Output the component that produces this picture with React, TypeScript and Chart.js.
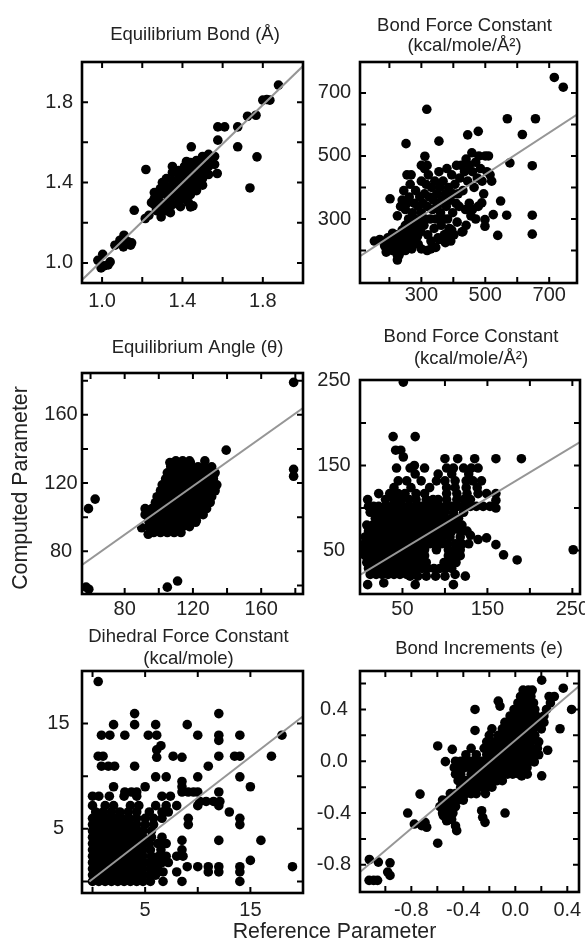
import React, { useEffect, useRef } from "react";
import { Chart, registerables } from "chart.js";

Chart.register(...registerables);

type Pt = [number, number];
type Row = [number, number[]]; // [y, list of x]

const FONT = '"Liberation Sans", Arial, Helvetica, sans-serif';
const TEXT = "#222";

// ---------- Panel 1: Equilibrium Bond ----------
const p1Title = ["Equilibrium Bond (Å)"];
const p1XRange = [0.9, 2.0];
const p1YRange = [0.9, 2.0];
const p1XTicks = [1.0, 1.2, 1.4, 1.6, 1.8];
const p1YTicks = [1.0, 1.2, 1.4, 1.6, 1.8];
const p1XLabels = [1.0, 1.4, 1.8];
const p1YLabels = [1.0, 1.4, 1.8];
const p1Fit: Pt[] = [[0.9, 0.915], [2.0, 1.98]];
const p1Points: Pt[] = [
  [0.979, 1.013], [1.003, 1.043], [1.01, 0.985], [1.04, 1.005], [1.03, 0.99], [0.995, 0.975],
  [1.064, 1.088], [1.089, 1.113], [1.109, 1.138], [1.13, 1.105], [1.142, 1.088], [1.106, 1.08], [1.147, 1.1],
  [1.16, 1.262], [1.215, 1.221], [1.233, 1.237], [1.218, 1.465], [1.246, 1.3], [1.294, 1.229],
  [1.44, 1.279], [1.452, 1.284], [1.444, 1.578], [1.5, 1.387], [1.573, 1.445], [1.576, 1.611],
  [1.576, 1.677], [1.61, 1.677], [1.675, 1.677], [1.675, 1.578], [1.724, 1.73], [1.766, 1.735],
  [1.736, 1.373], [1.771, 1.528], [1.8, 1.81], [1.82, 1.813], [1.835, 1.81], [1.878, 1.885],
  [1.26, 1.29], [1.26, 1.32], [1.26, 1.35],
  [1.29, 1.27], [1.29, 1.3], [1.29, 1.34], [1.29, 1.37],
  [1.32, 1.26], [1.32, 1.3], [1.32, 1.34], [1.32, 1.38], [1.32, 1.42],
  [1.35, 1.29], [1.35, 1.33], [1.35, 1.37], [1.35, 1.41], [1.35, 1.45], [1.35, 1.48],
  [1.38, 1.3], [1.38, 1.34], [1.38, 1.38], [1.38, 1.42], [1.38, 1.46],
  [1.41, 1.32], [1.41, 1.36], [1.41, 1.4], [1.41, 1.44], [1.41, 1.48],
  [1.44, 1.34], [1.44, 1.38], [1.44, 1.42], [1.44, 1.46], [1.44, 1.5],
  [1.47, 1.36], [1.47, 1.4], [1.47, 1.44], [1.47, 1.48], [1.47, 1.51],
  [1.5, 1.42], [1.5, 1.46], [1.5, 1.5], [1.5, 1.53],
  [1.53, 1.44], [1.53, 1.48], [1.53, 1.52], [1.53, 1.54],
  [1.56, 1.49], [1.56, 1.53],
  [1.39, 1.28], [1.43, 1.3], [1.36, 1.46], [1.42, 1.505], [1.3, 1.4], [1.34, 1.25], [1.27, 1.26],
];

// ---------- Panel 2: Bond Force Constant ----------
const p2Title = ["Bond Force Constant", "(kcal/mole/Å²)"];
const p2XRange = [108, 787];
const p2YRange = [97, 798];
const p2XTicks = [200, 300, 400, 500, 600, 700];
const p2YTicks = [200, 300, 400, 500, 600, 700];
const p2XLabels = [300, 500, 700];
const p2YLabels = [300, 500, 700];
const p2Fit: Pt[] = [[108, 182], [787, 631]];
const p2Points: Pt[] = [
  [716, 749], [744, 718], [317, 648], [569, 618], [657, 618], [616, 568], [478, 578], [445, 567],
  [355, 547], [252, 539], [311, 499], [577, 478], [647, 469], [548, 357], [567, 312], [647, 312],
  [647, 252], [539, 248], [499, 298], [499, 277], [525, 314], [489, 351], [427, 259], [202, 364],
  [153, 230], [225, 170],
  [190, 195], [200, 220], [205, 240], [210, 200], [215, 230], [220, 210], [222, 250], [225, 185],
  [230, 220], [235, 240], [238, 200], [240, 265], [245, 230], [248, 210], [250, 280], [255, 245],
  [258, 225], [260, 300], [262, 265], [265, 210], [268, 240], [270, 285], [275, 255], [278, 230],
  [280, 300], [285, 270], [288, 245], [290, 220], [295, 290], [298, 260], [170, 235], [185, 215],
  [195, 240], [210, 255], [230, 185], [250, 200], [270, 205],
  [300, 320], [305, 350], [308, 280], [310, 380], [312, 300], [315, 410], [318, 340], [320, 250],
  [322, 440], [325, 370], [328, 300], [330, 230], [332, 400], [335, 330], [338, 360], [340, 270],
  [342, 420], [345, 300], [348, 380], [350, 340], [352, 240], [355, 450], [358, 400], [360, 320],
  [362, 280], [365, 360], [368, 420], [370, 300], [372, 250], [375, 380], [378, 340], [380, 460],
  [382, 300], [385, 400], [388, 270], [390, 360], [392, 230], [395, 440], [398, 320], [400, 380],
  [402, 250], [405, 410], [408, 350], [410, 470], [412, 290], [415, 380], [418, 340], [420, 430],
  [225, 310], [235, 340], [240, 360], [245, 390], [250, 330], [255, 350], [262, 370], [265, 410],
  [268, 440], [272, 320], [278, 350], [282, 390], [290, 340], [295, 370], [300, 420], [310, 460],
  [318, 470], [255, 440], [300, 470],
  [425, 470], [430, 390], [435, 450], [438, 330], [440, 490], [445, 420], [450, 470], [455, 310],
  [458, 510], [460, 450], [465, 400], [470, 480], [475, 430], [478, 340], [480, 500], [485, 460],
  [490, 420], [495, 380], [500, 500], [505, 450], [510, 500], [515, 440], [520, 420], [440, 280],
  [430, 260], [460, 330], [470, 300], [450, 350],
  [300, 205], [318, 200], [330, 205], [345, 210], [355, 235], [375, 225], [390, 240], [395, 265], [380, 255],
];

// ---------- Panel 3: Equilibrium Angle ----------
const p3Title = ["Equilibrium Angle (θ)"];
const p3XRange = [55, 184.5];
const p3YRange = [55, 184.5];
const p3XTicks = [60, 80, 100, 120, 140, 160, 180];
const p3YTicks = [60, 80, 100, 120, 140, 160, 180];
const p3XLabels = [80, 120, 160];
const p3YLabels = [80, 120, 160];
const p3Fit: Pt[] = [[55, 72], [184.5, 164]];
const p3Points: Pt[] = [
  [179, 179], [179, 128], [179, 124], [58.8, 105], [62.7, 110.6], [57.4, 59], [59, 57.8],
  [105, 59], [111, 62.6], [93.8, 90], [90, 93.8], [102, 94], [121.6, 97], [139.5, 139.3],
  [130, 109], [125.5, 110], [132.3, 118.8], [106.5, 132], [118.5, 132],
];
const p3Rows: Row[] = [
  [91, [97, 101, 105, 109, 113]],
  [94.5, [94, 98, 102, 106, 110, 114, 118]],
  [98, [94, 98, 102, 106, 110, 114, 118, 122]],
  [101.5, [92, 95, 99, 103, 107, 111, 115, 119, 123, 126]],
  [105, [92, 96, 100, 104, 108, 112, 116, 120, 124, 128]],
  [108.5, [98, 102, 106, 110, 114, 118, 122, 126, 130]],
  [112, [99, 103, 107, 111, 115, 119, 123, 127, 131]],
  [115.5, [101, 105, 109, 113, 117, 121, 125, 129, 133]],
  [119, [102, 106, 110, 114, 118, 122, 126, 130, 134]],
  [122.5, [104, 108, 112, 116, 120, 124, 128, 132]],
  [126, [105, 109, 113, 117, 121, 125, 129, 133]],
  [129.5, [107, 111, 115, 119, 123, 127, 131]],
  [133, [110, 114, 118, 127]],
];

// ---------- Panel 4: Bond Force Constant (angles) ----------
const p4Title = ["Bond Force Constant", "(kcal/mole/Å²)"];
const p4XRange = [0, 259];
const p4YRange = [-1, 250.5];
const p4XTicks = [50, 100, 150, 200, 250];
const p4YTicks = [50, 100, 150, 200, 250];
const p4XLabels = [50, 150, 250];
const p4YLabels = [50, 150, 250];
const p4Fit: Pt[] = [[0, 21.5], [259, 177.5]];
const p4Points: Pt[] = [
  [51, 248], [39, 184], [65, 184], [42, 168], [48, 168], [51, 160], [100, 158], [115, 158],
  [135, 158], [160, 158], [190, 158], [64, 150], [251, 51], [169, 45], [185, 39], [160, 57],
  [149, 65], [160, 109], [160, 100], [160, 117], [149, 117], [139, 117], [110, 10], [65, 10],
  [9, 10], [28, 12], [124, 20], [89, 20], [100, 20], [78, 20], [68, 20], [59, 20], [130, 68], [139, 63],
];
const p4Rows: Row[] = [
  [147, [43, 59, 76, 102, 110, 122, 131, 139]],
  [140, [65, 92, 108, 128]],
  [132, [45, 55, 72, 90, 100, 112, 125, 133, 143]],
  [124, [40, 60, 82, 102, 112, 125, 138]],
  [117, [22, 35, 45, 53, 66, 76, 102, 114, 126]],
  [110, [9, 30, 40, 49, 58, 66, 78, 86, 92, 102, 114, 122, 130]],
  [102, [10, 16, 22, 30, 37, 44, 51, 58, 65, 72, 80, 87, 94, 101, 108, 115, 122, 130, 137, 145, 153]],
  [95, [12, 20, 28, 35, 42, 50, 57, 64, 72, 79, 86, 93, 100, 110, 122]],
  [88, [18, 25, 32, 39, 47, 54, 62, 69, 76, 84, 92, 100, 108, 116]],
  [80, [8, 15, 22, 29, 36, 43, 50, 57, 64, 71, 78, 85, 92, 99, 106, 113, 120]],
  [73, [10, 17, 24, 31, 38, 45, 52, 59, 66, 73, 80, 87, 94, 101, 108, 118, 126]],
  [66, [6, 13, 20, 27, 34, 41, 48, 55, 62, 69, 76, 83, 90, 97, 106, 118]],
  [58, [5, 12, 19, 26, 33, 40, 47, 54, 61, 68, 75, 82, 89, 96, 103, 112, 120, 128]],
  [51, [5, 12, 19, 26, 33, 40, 47, 54, 61, 68, 76, 90, 104, 112, 118]],
  [44, [6, 13, 20, 27, 34, 41, 48, 55, 62, 69, 76, 104, 111, 118]],
  [36, [8, 15, 22, 29, 36, 43, 50, 57, 64, 71, 78, 99, 106, 113]],
  [29, [10, 17, 24, 31, 38, 45, 52, 59, 66, 73, 80, 87, 94, 101, 108]],
  [22, [12, 19, 26, 33, 40, 47, 55, 62, 112]],
];

// ---------- Panel 5: Dihedral Force Constant ----------
const p5Title = ["Dihedral Force Constant", "(kcal/mole)"];
const p5XRange = [-1, 20];
const p5YRange = [-1.1, 20];
const p5XTicks = [0, 5, 10, 15];
const p5YTicks = [0, 5, 10, 15];
const p5XLabels = [5, 15];
const p5YLabels = [5, 15];
const p5Fit: Pt[] = [[-0.3, 0], [20, 15.7]];
const p5Points: Pt[] = [];
const p5Rows: Row[] = [
  [0, [0, 0.6, 1.2, 1.8, 2.4, 3.0, 3.6, 4.2, 4.8, 5.5, 6.7, 8.5, 14]],
  [0.6, [0, 0.6, 1.2, 1.8, 2.4, 3.0, 3.6, 4.2, 4.8, 5.4, 6.0]],
  [0.9, [6.7, 8.0, 11, 12, 14]],
  [1.2, [0, 0.6, 1.2, 1.8, 2.4, 3.0, 3.6, 4.2, 4.8, 5.5, 6.2]],
  [1.4, [9, 10, 11, 12, 14, 19]],
  [1.8, [0, 0.6, 1.2, 1.8, 2.4, 3.0, 3.6, 4.2, 4.8, 5.4, 6.0, 6.6, 7.2]],
  [2.0, [15]],
  [2.4, [0, 0.6, 1.2, 1.8, 2.4, 3.0, 3.6, 4.2, 4.8, 5.6, 6.3, 7.0, 8.0, 8.6]],
  [3.0, [0, 0.6, 1.2, 1.8, 2.4, 3.0, 3.6, 4.2, 4.8, 5.5, 6.5, 8.5]],
  [3.6, [0, 0.6, 1.2, 1.8, 2.4, 3.0, 3.6, 4.2, 4.8, 5.4, 6.2, 7.0]],
  [3.9, [8.5, 12, 16]],
  [4.2, [0, 0.6, 1.2, 1.8, 2.4, 3.0, 3.6, 4.2, 4.8, 5.6, 6.6]],
  [4.8, [0, 0.6, 1.2, 1.8, 2.4, 3.0, 3.6, 4.2, 4.8, 5.6]],
  [5.4, [0, 0.6, 1.2, 1.8, 2.4, 3.0, 3.6, 4.2, 5.0, 5.8, 9.1, 14]],
  [6.0, [0, 0.7, 1.4, 2.1, 2.8, 3.5, 4.2, 5.0, 5.8, 6.6, 9.1, 14]],
  [6.6, [0.3, 1.0, 1.8, 2.6, 3.4, 4.2, 5.4, 6.6, 7.2, 13]],
  [7.2, [0, 1.2, 2.0, 3.6, 4.4, 6.0, 7.0, 8.0, 10, 12]],
  [7.6, [10.2, 10.8, 11.5, 12.1]],
  [8.1, [0, 0.6, 1.6, 3.0, 4.2, 6.6, 7.4]],
  [8.5, [3.07, 3.7, 4.2, 8.5, 9.1, 9.6, 10, 12]],
  [9.0, [2, 5, 8.5, 15]],
  [9.5, [8.5]],
  [9.94, [6, 7, 10, 14]],
  [10.95, [0.85, 1.5, 2.1, 4.0, 11]],
  [11.8, [6.1, 8.5]],
  [11.9, [0.54, 1.0, 7.66, 12, 13.5, 14, 17]],
  [12.5, [6.1]],
  [12.9, [6.5]],
  [13.4, [12]],
  [13.9, [0.85, 1.65, 3.07, 5.3, 6.1, 10, 12, 14, 18]],
  [14.9, [2.0, 4.0, 6.0, 9.0]],
  [15.95, [4.0, 12.0]],
  [19, [0.54]],
];

// ---------- Panel 6: Bond Increments ----------
const p6Title = ["Bond Increments (e)"];
const p6XRange = [-1.195, 0.49];
const p6YRange = [-1.01, 0.697];
const p6XTicks = [-1.0, -0.8, -0.6, -0.4, -0.2, 0.0, 0.2, 0.4];
const p6YTicks = [-0.8, -0.6, -0.4, -0.2, 0.0, 0.2, 0.4, 0.6];
const p6XLabels = [-0.8, -0.4, 0.0, 0.4];
const p6YLabels = [-0.8, -0.4, 0.0, 0.4];
const p6Fit: Pt[] = [[-1.195, -0.856], [0.49, 0.579]];
const p6Points: Pt[] = [
  [0.203, 0.626], [0.369, 0.564], [0.433, 0.4], [0.344, 0.251], [0.249, 0.085], [0.146, -0.005],
  [0.203, -0.113], [0.049, -0.113], [0.092, -0.1], [-0.31, 0.4], [-0.118, 0.426], [-0.131, 0.464],
  [-0.31, 0.238], [-0.597, 0.118], [-0.485, 0.092], [-0.538, -0.003], [-0.733, -0.254], [-0.828, -0.4],
  [-0.777, -0.485], [-0.72, -0.497], [-0.682, -0.51], [-0.695, -0.472], [-0.597, -0.633], [-0.451, -0.536],
  [-0.554, -0.42], [-0.528, -0.46], [-0.259, -0.382], [-0.251, -0.433], [-0.233, -0.472], [-0.079, -0.4],
  [-1.123, -0.759], [-1.054, -0.779], [-0.964, -0.785], [-1.125, -0.92], [-1.09, -0.92], [-1.06, -0.92],
  [-0.982, -0.856], [-0.964, -0.882],
];
const p6Rows: Row[] = [
  [0.55, [0.06, 0.1, 0.13]],
  [0.5, [0.04, 0.08, 0.12, 0.26, 0.3]],
  [0.45, [0.02, 0.06, 0.1, 0.14, 0.27]],
  [0.4, [-0.01, 0.03, 0.07, 0.11, 0.15, 0.24]],
  [0.35, [-0.04, 0.0, 0.04, 0.08, 0.12, 0.16, 0.22]],
  [0.3, [-0.08, -0.04, 0.0, 0.04, 0.08, 0.12, 0.18, 0.22]],
  [0.25, [-0.18, -0.1, -0.06, -0.02, 0.02, 0.06, 0.1, 0.14, 0.2]],
  [0.2, [-0.2, -0.13, -0.09, -0.05, -0.01, 0.03, 0.07, 0.11, 0.15]],
  [0.15, [-0.22, -0.16, -0.12, -0.08, -0.04, 0.0, 0.04, 0.08, 0.12, 0.18]],
  [0.1, [-0.34, -0.24, -0.19, -0.15, -0.11, -0.07, -0.03, 0.01, 0.05, 0.09, 0.13, 0.17]],
  [0.05, [-0.38, -0.3, -0.22, -0.18, -0.14, -0.1, -0.06, -0.02, 0.02, 0.06, 0.1, 0.14, 0.18]],
  [0.0, [-0.46, -0.42, -0.38, -0.34, -0.3, -0.26, -0.22, -0.18, -0.14, -0.1, -0.06, -0.02, 0.02, 0.06, 0.1]],
  [-0.05, [-0.47, -0.43, -0.39, -0.35, -0.31, -0.27, -0.23, -0.19, -0.15, -0.11, -0.07, -0.03, 0.01, 0.05, 0.09]],
  [-0.1, [-0.46, -0.42, -0.34, -0.3, -0.26, -0.22, -0.18, -0.14, -0.1, -0.06, -0.02, 0.03]],
  [-0.15, [-0.44, -0.38, -0.34, -0.3, -0.26, -0.22, -0.18, -0.14, -0.1]],
  [-0.2, [-0.42, -0.38, -0.34, -0.3, -0.26, -0.22, -0.18]],
  [-0.25, [-0.5, -0.46, -0.42, -0.38, -0.34, -0.3, -0.23]],
  [-0.3, [-0.56, -0.52, -0.48, -0.44, -0.4]],
  [-0.35, [-0.58, -0.54, -0.5, -0.46]],
  [-0.4, [-0.56, -0.52, -0.48]],
  [-0.45, [-0.53, -0.49]],
  [-0.5, [-0.46]],
];

// ---------- layout ----------
interface PanelCfg {
  title: string[];
  titleOffsets: number[];
  titleDx: number;
  box: number[]; // plot area l, t, r, b in page px
  xRange: number[];
  yRange: number[];
  xTicks: number[];
  yTicks: number[];
  xLabels: number[];
  yLabels: number[];
  decimals: number;
  points: Pt[];
  rows: Row[];
  fit: Pt[];
  xPad: number;
  yPad: number;
}

const PANELS: PanelCfg[] = [
  { title: p1Title, titleOffsets: [22], titleDx: 2.5, box: [82, 62, 303, 283], xRange: p1XRange, yRange: p1YRange, xTicks: p1XTicks, yTicks: p1YTicks, xLabels: p1XLabels, yLabels: p1YLabels, decimals: 1, points: p1Points, rows: [], fit: p1Fit, xPad: 6, yPad: 9 },
  { title: p2Title, titleOffsets: [31.3, 11.5], titleDx: -4, box: [360, 62, 577, 283], xRange: p2XRange, yRange: p2YRange, xTicks: p2XTicks, yTicks: p2YTicks, xLabels: p2XLabels, yLabels: p2YLabels, decimals: 0, points: p2Points, rows: [], fit: p2Fit, xPad: 0.5, yPad: 8.8 },
  { title: p3Title, titleOffsets: [20], titleDx: 5, box: [82, 373, 303, 594], xRange: p3XRange, yRange: p3YRange, xTicks: p3XTicks, yTicks: p3YTicks, xLabels: p3XLabels, yLabels: p3YLabels, decimals: 0, points: p3Points, rows: p3Rows, fit: p3Fit, xPad: 3.5, yPad: 4.3 },
  { title: p4Title, titleOffsets: [38.3, 15.6], titleDx: 1, box: [360, 380, 580, 594], xRange: p4XRange, yRange: p4YRange, xTicks: p4XTicks, yTicks: p4YTicks, xLabels: p4XLabels, yLabels: p4YLabels, decimals: 0, points: p4Points, rows: p4Rows, fit: p4Fit, xPad: 3, yPad: 9.3 },
  { title: p5Title, titleOffsets: [28.6, 7], titleDx: -4, box: [82, 671, 303, 893], xRange: p5XRange, yRange: p5YRange, xTicks: p5XTicks, yTicks: p5YTicks, xLabels: p5XLabels, yLabels: p5YLabels, decimals: 0, points: p5Points, rows: p5Rows, fit: p5Fit, xPad: 5.5, yPad: 12.4 },
  { title: p6Title, titleOffsets: [16.7], titleDx: 9.5, box: [360, 671, 579, 892], xRange: p6XRange, yRange: p6YRange, xTicks: p6XTicks, yTicks: p6YTicks, xLabels: p6XLabels, yLabels: p6YLabels, decimals: 1, points: p6Points, rows: p6Rows, fit: p6Fit, xPad: 6.7, yPad: 8.8 },
];

const PAD_L = 70;
const PAD_T = 60;
const PAD_R = 25;
const PAD_B = 40;

function Panel({ cfg }: { cfg: PanelCfg }) {
  const ref = useRef<HTMLCanvasElement | null>(null);
  const [l, t, r, b] = cfg.box;
  const w = r - l + PAD_L + PAD_R;
  const h = b - t + PAD_T + PAD_B;

  useEffect(() => {
    if (!ref.current) return;
    const data = cfg.points.map(([x, y]) => ({ x, y }));
    cfg.rows.forEach(([y, xs]) => xs.forEach((x) => data.push({ x, y })));
    const isLabel = (list: number[], v: number) => list.some((L) => Math.abs(L - v) < 1e-6);

    const framePlugin = {
      id: "frameAndTitle",
      afterDraw(chart: any) {
        const { ctx, chartArea } = chart;
        const { left, top, right, bottom } = chartArea;
        const xs = chart.scales.x;
        const ys = chart.scales.y;
        ctx.save();
        ctx.strokeStyle = "#000";
        ctx.lineWidth = 2;
        ctx.beginPath();
        const L = 6;
        xs.ticks.forEach((tk: any) => {
          const p = xs.getPixelForValue(tk.value);
          if (p <= left + 2 || p >= right - 2) return;
          ctx.moveTo(p, bottom);
          ctx.lineTo(p, bottom - L);
          ctx.moveTo(p, top);
          ctx.lineTo(p, top + L);
        });
        ys.ticks.forEach((tk: any) => {
          const p = ys.getPixelForValue(tk.value);
          if (p <= top + 2 || p >= bottom - 2) return;
          ctx.moveTo(left, p);
          ctx.lineTo(left + L, p);
          ctx.moveTo(right, p);
          ctx.lineTo(right - L, p);
        });
        ctx.stroke();
        ctx.lineWidth = 2.6;
        ctx.strokeRect(left, top, right - left, bottom - top);
        ctx.fillStyle = TEXT;
        ctx.font = `18.5px ${FONT}`;
        ctx.textAlign = "center";
        ctx.textBaseline = "alphabetic";
        cfg.title.forEach((line, i) => {
          ctx.fillText(line, (left + right) / 2 + cfg.titleDx, top - cfg.titleOffsets[i]);
        });
        ctx.restore();
      },
    };

    const chart = new Chart(ref.current, {
      type: "scatter",
      data: {
        datasets: [
          {
            data: cfg.fit.map(([x, y]) => ({ x, y })),
            showLine: true,
            borderColor: "rgb(150,150,150)",
            borderWidth: 2,
            pointRadius: 0,
            order: 0,
          } as any,
          {
            data,
            pointRadius: 4.8,
            pointBorderWidth: 0,
            backgroundColor: "#000",
            borderColor: "#000",
            order: 1,
          } as any,
        ],
      },
      options: {
        responsive: false,
        devicePixelRatio: 1,
        animation: false,
        events: [],
        layout: { padding: { left: 0, top: PAD_T, right: PAD_R, bottom: 0 } },
        plugins: { legend: { display: false }, tooltip: { enabled: false }, title: { display: false } },
        scales: {
          x: {
            type: "linear",
            min: cfg.xRange[0],
            max: cfg.xRange[1],
            afterBuildTicks: (s: any) => {
              s.ticks = cfg.xTicks.map((v) => ({ value: v }));
            },
            afterFit: (s: any) => {
              s.height = PAD_B;
            },
            grid: { display: false, drawTicks: false },
            border: { display: false },
            ticks: {
              autoSkip: false,
              maxRotation: 0,
              minRotation: 0,
              padding: cfg.xPad,
              color: TEXT,
              font: { family: FONT, size: 20 },
              callback: (v: any) => (isLabel(cfg.xLabels, Number(v)) ? Number(v).toFixed(cfg.decimals) : ""),
            },
          },
          y: {
            type: "linear",
            min: cfg.yRange[0],
            max: cfg.yRange[1],
            afterBuildTicks: (s: any) => {
              s.ticks = cfg.yTicks.map((v) => ({ value: v }));
            },
            afterFit: (s: any) => {
              s.width = PAD_L;
            },
            grid: { display: false, drawTicks: false },
            border: { display: false },
            ticks: {
              autoSkip: false,
              crossAlign: "center",
              padding: cfg.yPad,
              color: TEXT,
              font: { family: FONT, size: 20 },
              callback: (v: any) => (isLabel(cfg.yLabels, Number(v)) ? Number(v).toFixed(cfg.decimals) : ""),
            },
          },
        },
      } as any,
      plugins: [framePlugin],
    });
    return () => chart.destroy();
  }, []);

  return (
    <canvas
      ref={ref}
      width={w}
      height={h}
      style={{ position: "absolute", left: l - PAD_L, top: t - PAD_T, width: w, height: h }}
    />
  );
}

export default function App() {
  return (
    <div
      style={{
        position: "absolute",
        left: 0,
        top: 0,
        width: 585,
        height: 941,
        overflow: "hidden",
        background: "#fff",
        fontFamily: FONT,
      }}
    >
      {PANELS.map((cfg, i) => (
        <Panel key={i} cfg={cfg} />
      ))}
      <div
        style={{
          position: "absolute",
          left: 20 - 150,
          top: 487.5 - 12,
          width: 300,
          height: 24,
          lineHeight: "24px",
          fontSize: 21.3,
          color: TEXT,
          textAlign: "center",
          whiteSpace: "nowrap",
          transform: "rotate(-90deg)",
          transformOrigin: "50% 50%",
        }}
      >
        Computed Parameter
      </div>
      <div
        style={{
          position: "absolute",
          left: 334.5 - 150,
          top: 921,
          width: 300,
          height: 22,
          lineHeight: "21.3px",
          fontSize: 21.3,
          color: TEXT,
          textAlign: "center",
          whiteSpace: "nowrap",
        }}
      >
        Reference Parameter
      </div>
    </div>
  );
}
